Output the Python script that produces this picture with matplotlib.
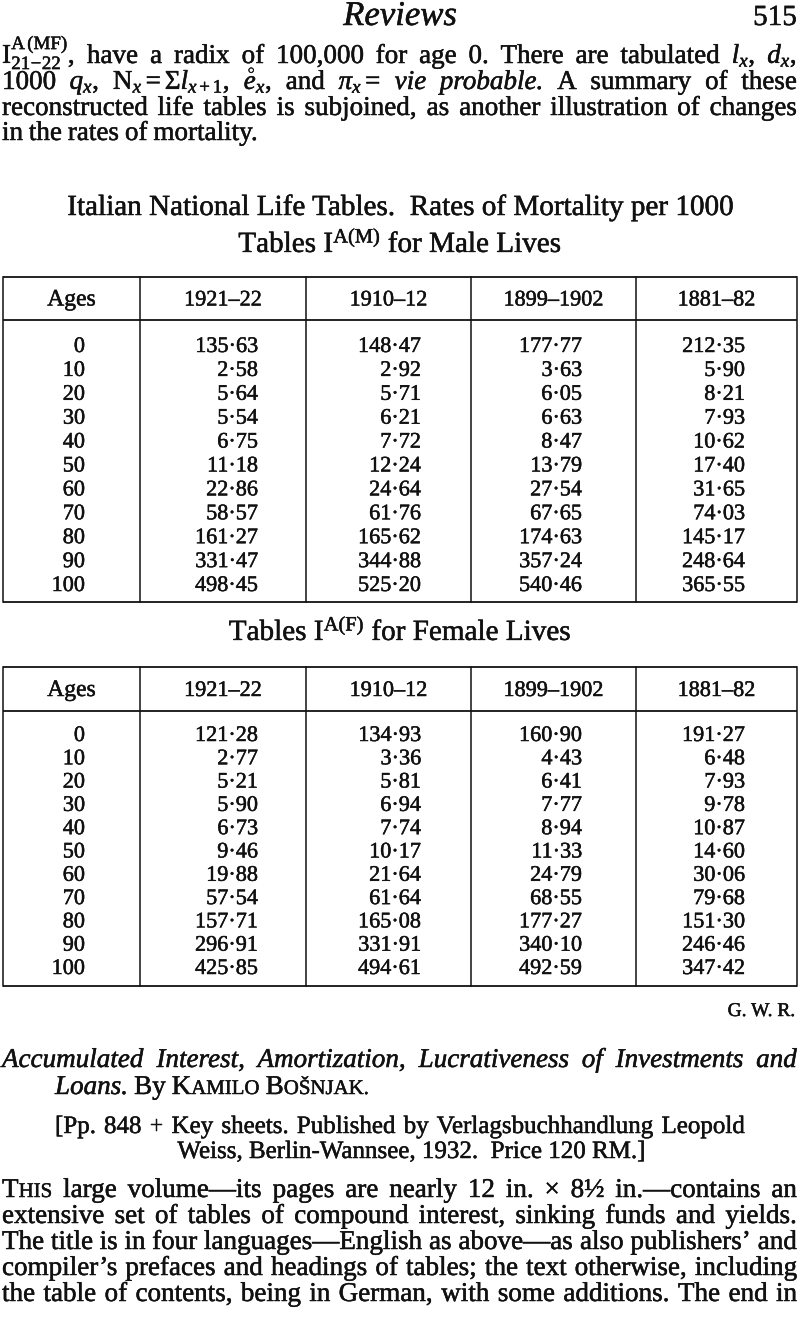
import matplotlib
matplotlib.use("Agg")
import matplotlib.pyplot as plt
import matplotlib.patheffects as pe

plt.rcParams['font.family'] = ['Liberation Serif', 'DejaVu Serif']
plt.rcParams['mathtext.fontset'] = 'custom'
plt.rcParams['mathtext.rm'] = 'Liberation Serif'
plt.rcParams['mathtext.it'] = 'Liberation Serif:italic'
plt.rcParams['mathtext.bf'] = 'Liberation Serif:bold'

# ---- table data (rates of mortality per 1000) ----
ages = [0, 10, 20, 30, 40, 50, 60, 70, 80, 90, 100]
periods = ['1921–22', '1910–12', '1899–1902', '1881–82']

male_1921_22 = [135.63, 2.58, 5.64, 5.54, 6.75, 11.18, 22.86, 58.57, 161.27, 331.47, 498.45]
male_1910_12 = [148.47, 2.92, 5.71, 6.21, 7.72, 12.24, 24.64, 61.76, 165.62, 344.88, 525.20]
male_1899_1902 = [177.77, 3.63, 6.05, 6.63, 8.47, 13.79, 27.54, 67.65, 174.63, 357.24, 540.46]
male_1881_82 = [212.35, 5.90, 8.21, 7.93, 10.62, 17.40, 31.65, 74.03, 145.17, 248.64, 365.55]

female_1921_22 = [121.28, 2.77, 5.21, 5.90, 6.73, 9.46, 19.88, 57.54, 157.71, 296.91, 425.85]
female_1910_12 = [134.93, 3.36, 5.81, 6.94, 7.74, 10.17, 21.64, 61.64, 165.08, 331.91, 494.61]
female_1899_1902 = [160.90, 4.43, 6.41, 7.77, 8.94, 11.33, 24.79, 68.55, 177.27, 340.10, 492.59]
female_1881_82 = [191.27, 6.48, 7.93, 9.78, 10.87, 14.60, 30.06, 79.68, 151.30, 246.46, 347.42]

INK = '#111111'
BODY = 19.5
TITLE = 21
SMALL = 15
NOTE = 18
TABLE = 16
LEFT, RIGHT = 2, 797

fig = plt.figure(figsize=(8, 13.23), dpi=100)
ax = fig.add_axes([0, 0, 1, 1])
ax.set_xlim(0, 800)
ax.set_ylim(1323, 0)
ax.axis('off')
renderer = fig.canvas.get_renderer()


def make_word(w, y, size):
    runs = w if isinstance(w, list) else [(w, {})]
    texts = []
    for s, kw in runs:
        opts = dict(fontsize=size, va='baseline', ha='left', color=INK)
        opts.update(kw)
        texts.append(ax.text(0, y, s, **opts))
    return texts


def word_width(texts):
    return sum(t.get_window_extent(renderer).width for t in texts)


def place(texts, x):
    for t in texts:
        t.set_x(x)
        x += t.get_window_extent(renderer).width
    return x


def text_line(words, y, x0=LEFT, x1=RIGHT, justify=True, space=None, size=BODY):
    built = [make_word(w, y, size) for w in words]
    widths = [word_width(b) for b in built]
    n = len(built)
    if space is None:
        space = size * 0.3
    if justify and n > 1:
        need = sum(widths) + 3.5 * (n - 1)
        if need > x1 - x0:
            # squeeze the type a little so the line still fits
            k = (x1 - x0 - 3.5 * (n - 1)) / sum(widths)
            for b in built:
                for t in b:
                    t.set_fontsize(t.get_fontsize() * k)
            widths = [word_width(b) for b in built]
        gap = (x1 - x0 - sum(widths)) / (n - 1)
    else:
        gap = space
    x = x0
    for b, wd in zip(built, widths):
        place(b, x)
        x += wd + gap


def caps(word, big=BODY, small=SMALL):
    # small capitals: first letter full size, rest smaller
    return [(word[0], {'fontsize': big}), (word[1:], {'fontsize': small})]


it = {'style': 'italic'}

# ---- running head ----
ax.text(400, 25, 'Reviews', fontsize=25, style='italic', ha='center', va='baseline', color=INK)
ax.text(797, 25, '515', fontsize=21, ha='right', va='baseline', color=INK)

# ---- opening paragraph ----
text_line([r'$\mathrm{I}^{\mathrm{A\,(MF)}}_{21\!-\!22}$,', 'have', 'a', 'radix', 'of', '100,000',
           'for', 'age', '0.', 'There', 'are', 'tabulated', r'$l_x$,', r'$d_x$,'], 63)
text_line(['1000', r'$q_x$,', r'$\mathrm{N}_x = \Sigma l_{x+1}$,', r'$\mathring{e}_x$,', 'and',
           r'$\pi_x=$', [('vie', it)], [('probable.', it)], 'A', 'summary', 'of', 'these'], 89)
text_line('reconstructed life tables is subjoined, as another illustration of changes'.split(), 115)
text_line('in the rates of mortality.'.split(), 140, justify=False)

# ---- table titles ----
ax.text(400, 215, 'Italian National Life Tables.  Rates of Mortality per 1000', fontsize=TITLE,
        ha='center', va='baseline', color=INK)

col_lines = [3, 140, 306, 471, 636, 797]
age_right = 85
val_right = [258, 421, 582, 745]


def draw_table(title_y, title, top, head_line, first_row, step, bottom, columns):
    ax.text(400, title_y, title, fontsize=TITLE, ha='center', va='baseline', color=INK)
    for yy in (top, head_line, bottom):
        ax.plot([col_lines[0], col_lines[-1]], [yy, yy], color=INK, lw=1.3, solid_capstyle='butt')
    for xx in col_lines:
        ax.plot([xx, xx], [top, bottom], color=INK, lw=1.1)
    head_y = (top + head_line) / 2 + 7
    ax.text((col_lines[0] + col_lines[1]) / 2, head_y, 'Ages', fontsize=TABLE + 1, ha='center',
            va='baseline', color=INK)
    for i, p in enumerate(periods):
        ax.text((col_lines[i + 1] + col_lines[i + 2]) / 2, head_y, p, fontsize=TABLE,
                ha='center', va='baseline', color=INK)
    for r, age in enumerate(ages):
        yy = first_row + r * step + 6
        ax.text(age_right, yy, str(age), fontsize=TABLE, ha='right', va='baseline', color=INK)
        for c, vals in enumerate(columns):
            s = f'{vals[r]:.2f}'.replace('.', '·')
            ax.text(val_right[c], yy, s, fontsize=TABLE, ha='right', va='baseline', color=INK)


draw_table(252, r'Tables $\mathrm{I}^{\mathrm{A(M)}}$ for Male Lives', 277, 320, 346, 23.9, 602,
           [male_1921_22, male_1910_12, male_1899_1902, male_1881_82])
draw_table(640, r'Tables $\mathrm{I}^{\mathrm{A(F)}}$ for Female Lives', 667, 711, 735, 23.3, 986,
           [female_1921_22, female_1910_12, female_1899_1902, female_1881_82])

ax.text(795, 1016, 'G. W. R.', fontsize=14, ha='right', va='baseline', color=INK)

# ---- next review ----
text_line([[(w, it)] for w in 'Accumulated Interest, Amortization, Lucrativeness of Investments and'.split()],
          1067)
text_line([[('Loans.', it)], 'By', caps('KAMILO'), caps('BOŠNJAK.')], 1094, x0=55, justify=False)
text_line('[Pp. 848 + Key sheets. Published by Verlagsbuchhandlung Leopold'.split(), 1133,
          x0=55, x1=745, size=NOTE)
ax.text(412, 1158, 'Weiss, Berlin-Wannsee, 1932.  Price 120 RM.]', fontsize=NOTE, ha='center',
        va='baseline', color=INK)

text_line([caps('THIS'), 'large', 'volume—its', 'pages', 'are', 'nearly', '12', 'in.', '×', '8½',
           'in.—contains', 'an'], 1197)
text_line('extensive set of tables of compound interest, sinking funds and yields.'.split(), 1223)
text_line('The title is in four languages—English as above—as also publishers’ and'.split(), 1249)
text_line('compiler’s prefaces and headings of tables; the text otherwise, including'.split(), 1275)
text_line('the table of contents, being in German, with some additions.  The end in'.split(), 1301)

# scanned print looks a touch heavier than the regular face
for t in ax.texts:
    t.set_path_effects([pe.withStroke(linewidth=0.35, foreground=INK)])

fig.savefig('out.png', dpi=100, facecolor='white')
